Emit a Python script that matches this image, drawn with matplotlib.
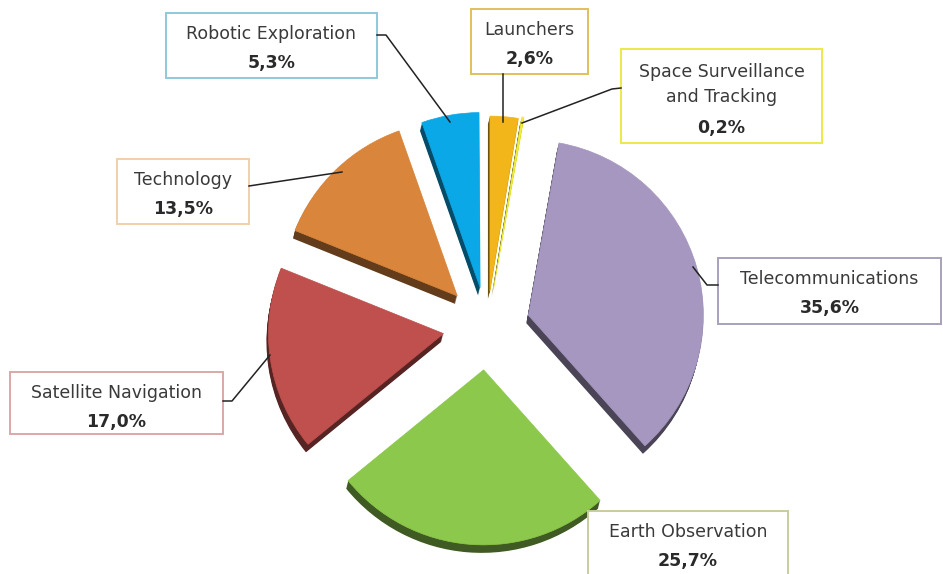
import numpy as np
import matplotlib.pyplot as plt
from matplotlib.patches import Wedge, Rectangle
from matplotlib.colors import to_rgb

# slices, clockwise from the top
names = ['Launchers', 'Space Surveillance\nand Tracking', 'Telecommunications',
         'Earth Observation', 'Satellite Navigation', 'Technology', 'Robotic Exploration']
shares = [2.6, 0.2, 35.6, 25.7, 17.0, 13.5, 5.3]
pct_labels = [f'{v:.1f}'.replace('.', ',') + '%' for v in shares]

colors = ['#F2B51A', '#F3EE3A', '#A597BF', '#8CC84B', '#C0504D', '#D9853B', '#0BA8E8']
box_colors = ['#E2BF5E', '#EDE84A', '#A9A0BC', '#C9CC9E', '#D9A9A7', '#F2CFA9', '#8EC9DD']
explode = [36, 38, 43, 43, 44, 43, 40]

# label boxes in pixels: x0, y0, x1, y1
boxes = [(471, 9, 588, 74), (621, 49, 822, 143), (718, 258, 941, 324),
         (588, 511, 788, 580), (10, 372, 223, 434), (117, 159, 249, 224), (166, 13, 377, 78)]
leaders = [[(503, 74), (503, 122)],
           [(621, 88), (612, 89), (522, 123)],
           [(693, 267), (707, 285), (718, 285)],
           None,
           [(223, 401), (232, 401), (270, 355)],
           [(249, 186), (262, 184), (342, 172)],
           [(377, 35), (386, 35), (450, 122)]]

W, H = 943, 574
cx, cy, R = 487, 327, 175
depth = 8

fig = plt.figure(figsize=(W / 100, H / 100), dpi=100)
ax = fig.add_axes([0, 0, 1, 1])
ax.set_xlim(0, W)
ax.set_ylim(H, 0)
ax.set_aspect('equal')
ax.axis('off')

# y axis is inverted, so increasing theta runs clockwise on screen
cum = np.concatenate([[0], np.cumsum(shares)])
total = 100.0
for i, v in enumerate(shares):
    t1 = -90 + 360 * cum[i] / total
    t2 = -90 + 360 * cum[i + 1] / total
    tm = np.radians((t1 + t2) / 2)
    x0 = cx + explode[i] * np.cos(tm)
    y0 = cy + explode[i] * np.sin(tm)
    dark = tuple(np.array(to_rgb(colors[i])) * 0.45)
    for d in range(depth, 0, -1):
        ax.add_patch(Wedge((x0 - d * 0.25, y0 + d), R, t1, t2, facecolor=dark,
                           edgecolor='none', zorder=2))
    ax.add_patch(Wedge((x0, y0), R, t1, t2, facecolor=colors[i], edgecolor=colors[i],
                       linewidth=0.5, zorder=3))

for i in range(len(names)):
    bx0, by0, bx1, by1 = boxes[i]
    ax.add_patch(Rectangle((bx0, by0), bx1 - bx0, by1 - by0, facecolor='white',
                           edgecolor=box_colors[i], linewidth=1.4, zorder=4))
    if leaders[i]:
        xs, ys = zip(*leaders[i])
        ax.plot(xs, ys, color='#222222', linewidth=1.1, zorder=5)
    nlines = names[i].count('\n') + 1
    xc = (bx0 + bx1) / 2
    ytop = by0 + 21
    ax.text(xc, ytop + 14.5 * (nlines - 1), names[i], ha='center', va='center',
            fontsize=12.5, color='#3a3a3a', linespacing=1.55, zorder=6)
    ax.text(xc, ytop + 29 * nlines, pct_labels[i], ha='center', va='center',
            fontsize=12.5, fontweight='bold', color='#2a2a2a', zorder=6)

fig.savefig('out.png', dpi=100)
